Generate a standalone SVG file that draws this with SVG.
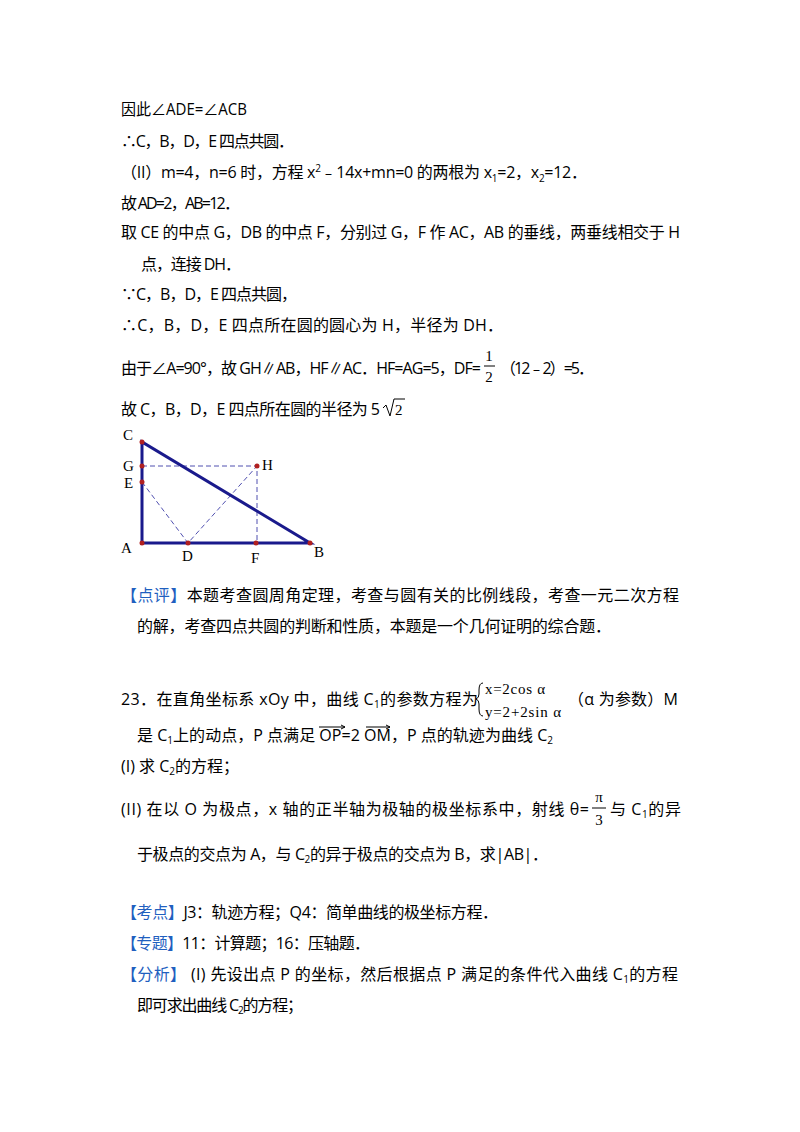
<svg xmlns="http://www.w3.org/2000/svg" width="800" height="1132" viewBox="0 0 800 1132">
<style>
text{font-family:"Open Sans","Noto Sans CJK SC",sans-serif;font-size:16px;fill:#000}
.s{font-size:10px}
.f{font-family:"Liberation Serif",serif;font-size:15px}
.b{fill:#1f5fbf}
.tri{stroke:#1a1a8c;stroke-width:3;fill:none}
.d{stroke:#5050b0;stroke-width:1;stroke-dasharray:5,3;fill:none}
.p{fill:#b02020}
</style>
<rect width="800" height="1132" fill="#fff"/>
<g id="text1">
<text x="121" y="115" textLength="126" lengthAdjust="spacingAndGlyphs">因此∠ADE=∠ACB</text>
<text x="121" y="147" textLength="173">∴C，B，D，E 四点共圆．</text>
<text x="121" y="178" textLength="466">（II）m=4，n=6 时，方程 x<tspan class="s" dy="-6">2</tspan><tspan dy="6">﹣14x+mn=0 的两根为 x</tspan><tspan class="s" dy="4">1</tspan><tspan dy="-4">=2，x</tspan><tspan class="s" dy="4">2</tspan><tspan dy="-4">=12．</tspan></text>
<text x="121" y="209" textLength="119">故 AD=2，AB=12．</text>
<text x="121" y="238" textLength="559">取 CE 的中点 G，DB 的中点 F，分别过 G，F 作 AC，AB 的垂线，两垂线相交于 H</text>
<text x="141" y="270" textLength="100">点，连接 DH．</text>
<text x="121" y="300" textLength="176">∵C，B，D，E 四点共圆，</text>
<text x="121" y="331" textLength="382">∴C，B，D，E 四点所在圆的圆心为 H，半径为 DH．</text>
<text x="121" y="374" textLength="360">由于∠A=90°，故 GH∥AB，HF∥AC．HF=AG=5，DF=</text>
<text x="489" y="361" class="f" text-anchor="middle">1</text><line x1="484" y1="366" x2="495" y2="366" stroke="#000"/><text x="489" y="382" class="f" text-anchor="middle">2</text>
<text x="500" y="374" textLength="94">（12﹣2）=5．</text>
<text x="121" y="415" textLength="259">故 C，B，D，E 四点所在圆的半径为 5</text>
<path d="M383 408 L386 405 L390 416 L394 399 L405 399" stroke="#000" fill="none"/>
<text x="395" y="415" class="f">2</text>
</g>
<g id="figure">
<path class="d" d="M142 466 H257 V543 M142 482 L188 543 L257 466"/>
<path class="tri" d="M142 442 V543 H310 Z"/>
<g class="p"><circle cx="142" cy="442" r="2.5"/><circle cx="142" cy="466" r="2.5"/><circle cx="142" cy="482" r="2.5"/><circle cx="142" cy="543" r="2.5"/><circle cx="188" cy="543" r="2.5"/><circle cx="256" cy="543" r="2.5"/><circle cx="257" cy="466" r="2.5"/><circle cx="310" cy="543" r="2.5"/></g>
<g><text x="123" y="440" class="f">C</text><text x="123" y="471" class="f">G</text><text x="124" y="488" class="f">E</text><text x="121" y="553" class="f">A</text><text x="182" y="561" class="f">D</text><text x="251" y="563" class="f">F</text><text x="262" y="470" class="f">H</text><text x="314" y="557" class="f">B</text></g>
</g>
<g id="text2">
<text x="121" y="601" textLength="558"><tspan class="b">【点评】</tspan>本题考查圆周角定理，考查与圆有关的比例线段，考查一元二次方程</text>
<text x="137" y="632" textLength="474">的解，考查四点共圆的判断和性质，本题是一个几何证明的综合题．</text>
<text x="121" y="705" textLength="357">23．在直角坐标系 xOy 中，曲线 C<tspan class="s" dy="3">1</tspan><tspan dy="-3">的参数方程为</tspan></text>
<path d="M483 683 Q479 683 479 690 L479 694 Q479 698 476 699 Q479 700 479 704 L479 709 Q479 716 483 716" stroke="#000" fill="none"/>
<text x="485" y="694" class="f" textLength="60">x=2cos α</text>
<text x="485" y="717" class="f" textLength="76">y=2+2sin α</text>
<text x="568" y="705" textLength="110">（α 为参数）M</text>
<text x="137" y="741" textLength="416">是 C<tspan class="s" dy="3">1</tspan><tspan dy="-3">上的动点，P 点满足 OP=2 OM，P 点的轨迹为曲线 C</tspan><tspan class="s" dy="3">2</tspan></text>
<path d="M319 727 H345 M341 725 L345 727 L341 729 M366 727 H390 M386 725 L390 727 L386 729" stroke="#000" fill="none"/>
<text x="121" y="772">(I) 求 C<tspan class="s" dy="3">2</tspan><tspan dy="-3">的方程；</tspan></text>
<text x="121" y="815" textLength="468">(II) 在以 O 为极点，x 轴的正半轴为极轴的极坐标系中，射线 θ=</text>
<text x="599" y="802" class="f" text-anchor="middle">π</text><line x1="592" y1="808" x2="606" y2="808" stroke="#000"/><text x="599" y="825" class="f" text-anchor="middle">3</text>
<text x="610" y="815" textLength="71">与 C<tspan class="s" dy="3">1</tspan><tspan dy="-3">的异</tspan></text>
<text x="137" y="860" textLength="411">于极点的交点为 A，与 C<tspan class="s" dy="3">2</tspan><tspan dy="-3">的异于极点的交点为 B，求|AB|．</tspan></text>
<text x="121" y="918" textLength="377"><tspan class="b">【考点】</tspan>J3：轨迹方程；Q4：简单曲线的极坐标方程．</text>
<text x="121" y="949" textLength="249"><tspan class="b">【专题】</tspan>11：计算题；16：压轴题．</text>
<text x="121" y="980" textLength="557"><tspan class="b">【分析】</tspan> (I) 先设出点 P 的坐标，然后根据点 P 满足的条件代入曲线 C<tspan class="s" dy="3">1</tspan><tspan dy="-3">的方程</tspan></text>
<text x="137" y="1011" textLength="166">即可求出曲线 C<tspan class="s" dy="3">2</tspan><tspan dy="-3">的方程；</tspan></text>
</g>
</svg>
